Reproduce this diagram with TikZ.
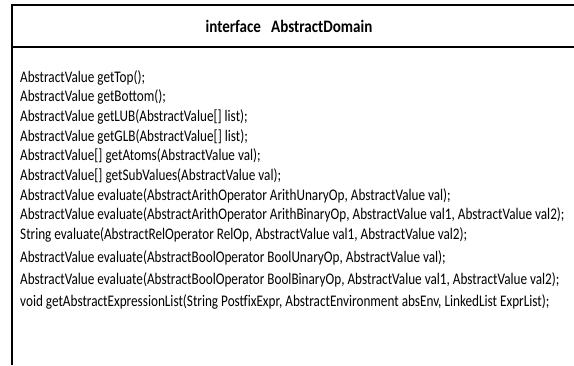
\documentclass[tikz,border=0pt]{standalone}
\usepackage{fontspec}
\setmainfont{Carlito}
\begin{document}
\begin{tikzpicture}[x=1pt,y=-1pt,
  member/.style={anchor=base west, inner sep=0pt, font=\fontsize{16.2}{18}\selectfont},
  titletext/.style={anchor=center, inner sep=0pt, font=\fontsize{17.5}{19}\selectfont\bfseries}]
\useasboundingbox (0,0) rectangle (574,365);
\fill[white] (0,0) rectangle (574,365);
\draw[line width=1.2pt] (12,365) |- (574,5);
\draw[line width=1.2pt] (12,47) -- (574,47);
\node[titletext] (title) at (289,26) {\scalebox{0.86}[1]{interface\ \ \ AbstractDomain}};
\node[member] (m1) at (20,82) {\scalebox{0.815}[1]{AbstractValue getTop();}};
\node[member] (m2) at (20,101.7) {\scalebox{0.815}[1]{AbstractValue getBottom();}};
\node[member] (m3) at (20,121.4) {\scalebox{0.815}[1]{AbstractValue getLUB(AbstractValue[] list);}};
\node[member] (m4) at (20,141.1) {\scalebox{0.815}[1]{AbstractValue getGLB(AbstractValue[] list);}};
\node[member] (m5) at (20,160.8) {\scalebox{0.815}[1]{AbstractValue[] getAtoms(AbstractValue val);}};
\node[member] (m6) at (20,180.5) {\scalebox{0.815}[1]{AbstractValue[] getSubValues(AbstractValue val);}};
\node[member] (m7) at (20,200.2) {\scalebox{0.815}[1]{AbstractValue evaluate(AbstractArithOperator ArithUnaryOp, AbstractValue val);}};
\node[member] (m8) at (20,219.9) {\scalebox{0.815}[1]{AbstractValue evaluate(AbstractArithOperator ArithBinaryOp, AbstractValue val1, AbstractValue val2);}};
\node[member] (m9) at (20,239.6) {\scalebox{0.815}[1]{String evaluate(AbstractRelOperator RelOp, AbstractValue val1, AbstractValue val2);}};
\node[member] (m10) at (20,262) {\scalebox{0.815}[1]{AbstractValue evaluate(AbstractBoolOperator BoolUnaryOp, AbstractValue val);}};
\node[member] (m11) at (20,284) {\scalebox{0.815}[1]{AbstractValue evaluate(AbstractBoolOperator BoolBinaryOp, AbstractValue val1, AbstractValue val2);}};
\node[member] (m12) at (20,306) {\scalebox{0.815}[1]{void getAbstractExpressionList(String PostfixExpr, AbstractEnvironment absEnv, LinkedList ExprList);}};
\end{tikzpicture}
\end{document}
